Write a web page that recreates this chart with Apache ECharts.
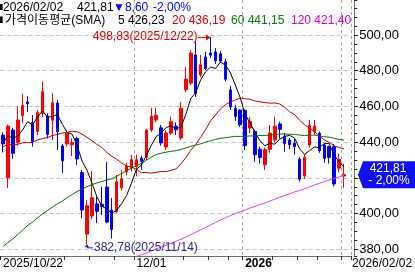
<!DOCTYPE html>
<html><head><meta charset="utf-8">
<script src="https://cdn.jsdelivr.net/npm/echarts@6/dist/echarts.min.js"></script>
<style>html,body{margin:0;padding:0;background:#fff;overflow:hidden}#c{width:415px;height:273px}</style>
</head><body><div id="c"></div><script>
const dates = ['2025/10/22','2025/10/23','2025/10/24','2025/10/27','2025/10/28','2025/10/29','2025/10/30','2025/10/31',
'2025/11/03','2025/11/04','2025/11/05','2025/11/06','2025/11/07','2025/11/10','2025/11/11','2025/11/12','2025/11/13','2025/11/14','2025/11/17','2025/11/18','2025/11/19','2025/11/20','2025/11/21','2025/11/24','2025/11/25','2025/11/26','2025/11/28',
'2025/12/01','2025/12/02','2025/12/03','2025/12/04','2025/12/05','2025/12/08','2025/12/09','2025/12/10','2025/12/11','2025/12/12','2025/12/15','2025/12/16','2025/12/17','2025/12/18','2025/12/19','2025/12/22','2025/12/23','2025/12/24','2025/12/26','2025/12/29','2025/12/30','2025/12/31',
'2026/01/02','2026/01/05','2026/01/06','2026/01/07','2026/01/08','2026/01/09','2026/01/12','2026/01/13','2026/01/14','2026/01/15','2026/01/16','2026/01/20','2026/01/21','2026/01/22','2026/01/23','2026/01/26','2026/01/27','2026/01/28','2026/01/29','2026/01/30',
'2026/02/02'];
const open = [443.9, 420.0, 446.8, 439.9, 454.8, 462.5, 451.0, 446.0, 456.0, 454.5,
 452.3, 461.9, 437.9, 439.0, 438.5, 442.1, 423.0, 388.5, 398.7, 405.4,
 405.2, 414.9, 402.0, 401.0, 414.4, 423.3, 425.5, 426.3, 431.0, 431.6,
 446.8, 452.4, 448.0, 437.3, 445.1, 449.0, 442.3, 469.4, 473.1, 488.8,
 477.6, 487.7, 489.9, 490.5, 489.5, 485.0, 469.2, 459.0, 458.0, 457.8,
 447.9, 446.0, 436.0, 427.3, 436.0, 441.2, 450.2, 443.4, 441.2, 439.5,
 430.4, 421.0, 438.4, 445.9, 445.0, 438.4, 437.5, 437.5, 425.4, 421.0];
const close = [438.97, 448.98, 433.72, 452.42, 460.55, 461.51, 440.10, 456.56, 468.37, 444.26,
 462.07, 445.91, 429.52, 445.23, 439.62, 430.60, 401.99, 404.35, 408.92, 401.25,
 403.99, 395.23, 391.09, 417.78, 419.40, 426.58, 430.17, 430.14, 429.24, 446.74,
 454.53, 455.00, 439.58, 445.17, 451.45, 446.89, 458.96, 475.31, 489.88, 467.26,
 483.37, 481.20, 488.73, 485.56, 485.40, 475.19, 459.64, 454.43, 449.72, 438.07,
 451.67, 432.96, 431.41, 435.80, 445.01, 448.96, 447.20, 439.20, 438.57, 437.50,
 419.25, 431.44, 449.36, 449.06, 435.20, 430.90, 431.46, 416.56, 430.41, 421.81];
const low = [434.2, 414.3, 430.6, 438.0, 450.9, 456.9, 437.5, 444.0, 454.0, 442.0,
 441.2, 435.6, 422.7, 437.5, 432.2, 427.2, 397.5, 382.78, 396.9, 394.7,
 399.2, 394.5, 386.0, 400.3, 412.8, 421.5, 423.5, 420.8, 424.5, 430.0,
 445.7, 451.0, 438.0, 435.6, 444.0, 444.0, 441.2, 468.0, 472.0, 465.3,
 476.5, 480.4, 487.2, 483.8, 484.5, 474.0, 458.0, 452.0, 448.5, 435.6,
 445.0, 429.0, 428.0, 424.4, 434.0, 440.0, 442.0, 434.7, 436.0, 433.0,
 417.9, 419.5, 437.0, 444.0, 434.0, 428.5, 428.0, 415.1, 423.0, 414.5];
const high = [445.5, 449.8, 448.0, 460.2, 467.0, 465.7, 455.1, 458.0, 474.1, 456.2,
 467.5, 463.5, 439.0, 447.0, 442.2, 443.0, 424.4, 407.6, 423.9, 409.3,
 415.0, 428.9, 408.7, 421.7, 424.4, 428.3, 432.8, 433.0, 432.5, 447.5,
 459.1, 459.1, 449.6, 446.5, 454.3, 451.0, 462.5, 482.1, 491.5, 496.1,
 488.8, 490.6, 498.83, 492.7, 491.0, 486.5, 471.5, 461.0, 458.5, 458.5,
 454.0, 447.0, 437.5, 437.0, 449.6, 454.3, 451.5, 445.0, 442.5, 442.0,
 431.5, 433.0, 452.4, 452.4, 446.0, 439.0, 438.0, 439.0, 433.5, 428.0];
const sma5 = [439.41, 443.46, 442.34, 443.34, 446.93, 451.44, 449.66, 454.23, 457.42, 454.16,
 454.27, 455.43, 450.03, 445.40, 444.47, 438.18, 429.39, 424.36, 417.10, 409.42,
 404.10, 402.75, 400.10, 401.87, 405.50, 410.02, 417.00, 424.81, 427.11, 432.57,
 438.16, 443.13, 445.02, 448.20, 449.15, 447.62, 448.41, 455.56, 464.50, 467.66,
 474.96, 479.40, 482.09, 481.22, 484.85, 483.22, 478.90, 472.04, 464.88, 455.41,
 450.71, 445.37, 440.77, 437.98, 439.37, 438.83, 441.68, 443.23, 443.79, 442.29,
 436.34, 433.19, 435.22, 437.32, 436.86, 439.19, 439.20, 432.64, 428.91, 426.23];
const sma20 = [437.42, 438.70, 438.37, 438.83, 439.62, 439.72, 439.93, 441.26, 442.02, 442.58,
 443.75, 444.26, 445.07, 445.53, 446.05, 445.82, 444.49, 442.74, 440.81, 438.75,
 437.00, 434.31, 432.18, 430.45, 428.39, 426.64, 426.14, 424.82, 422.87, 422.99,
 422.61, 423.07, 423.57, 423.57, 424.16, 424.97, 427.82, 431.37, 435.42, 438.72,
 442.69, 446.99, 451.87, 455.26, 458.56, 460.99, 462.46, 463.68, 464.70, 464.27,
 464.12, 463.02, 462.61, 462.15, 461.82, 461.93, 461.34, 459.53, 456.97, 455.48,
 452.27, 449.79, 447.82, 445.99, 443.48, 441.27, 439.86, 437.97, 437.00, 436.19];
const sma60 = [381.53, 383.70, 385.79, 388.28, 390.80, 393.35, 395.35, 397.59, 399.90, 401.66,
 403.68, 405.45, 407.02, 408.93, 410.67, 412.36, 413.66, 415.07, 416.21, 417.12,
 418.00, 418.76, 419.51, 420.91, 422.41, 423.95, 425.48, 426.80, 428.18, 429.84,
 431.62, 433.06, 433.79, 434.37, 434.87, 435.22, 435.92, 436.74, 437.67, 438.36,
 439.04, 440.00, 440.80, 441.51, 442.19, 442.45, 442.84, 443.25, 443.20, 443.28,
 443.49, 443.45, 443.75, 443.75, 444.01, 444.24, 444.55, 444.55, 444.40, 444.31,
 443.99, 443.69, 443.95, 443.90, 443.48, 442.97, 442.82, 442.16, 441.52, 441.15];
const sma120 = [null, null, null, null, null, null, null, null, null, null,
 null, null, null, null, null, null, null, null, null, null,
 null, null, null, null, null, null, 375.10, 376.02, 376.93, 377.99,
 379.11, 380.23, 381.23, 382.27, 383.37, 384.43, 385.58, 386.88, 388.29, 389.52,
 390.88, 392.23, 393.63, 395.01, 396.39, 397.68, 398.85, 399.97, 401.05, 402.03,
 403.13, 404.07, 405.00, 405.96, 407.01, 408.08, 409.14, 410.14, 411.12, 412.10,
 412.93, 413.86, 414.94, 416.01, 416.97, 417.90, 418.83, 419.63, 420.55, 421.40];
const maPeriods = [5, 20, 60, 120];
const maTitle = '가격이동평균(SMA)';

const F = '"Liberation Sans", "Noto Sans CJK KR", sans-serif';
const fmt = v => v.toFixed(2).replace('.', ',');
const N = dates.length;
const cats = dates.concat(['']);
const ohlc = dates.map((d, i) => [open[i], close[i], low[i], high[i]]);
const day = s => new Date(s.replace(/\//g, '-') + 'T00:00:00Z').getUTCDay();

// axis labels: first date, month starts (skipping ones hidden under the first label), last date
const FIRST_SPAN = 12, MONTH_SPAN = 6;
const labelTxt = {};
labelTxt[0] = dates[0];
for (let i = 1; i < N; i++) {
  if (dates[i].slice(0, 7) !== dates[i - 1].slice(0, 7) && i >= FIRST_SPAN) {
    labelTxt[i] = dates[i].slice(0, 4) !== dates[i - 1].slice(0, 4) ? '{b|' + dates[i].slice(0, 4) + '}' : dates[i].slice(5);
  }
}
labelTxt[N - 1] = '{e|' + dates[N - 1] + '}';
const spans = Object.keys(labelTxt).map(k => [+k, (k == 0 || k == N - 1) ? FIRST_SPAN : MONTH_SPAN]);
const tickOn = i => {
  if (i >= N) return false;
  if (labelTxt[i] !== undefined) return true;
  if (!(day(dates[i]) <= day(dates[i - 1]))) return false;
  return !spans.some(([j, s]) => i > j && i < j + s);
};

const GR = 60.7, YOFF = 2.7, YMIN = 376.24, YMAX = 519.6;
const colUp = '#ff0000', colDn = '#0000ff';
const maCol = ['#000000', '#c80000', '#007800', '#e040e0'];
const maTxtCol = ['#000000', '#e00000', '#008000', '#cc00cc'];

const chart = echarts.init(document.getElementById('c'), null, {renderer: 'canvas'});
chart.setOption({
  animation: false,
  backgroundColor: '#ffffff',
  grid: {left: -3.2, right: GR, top: 0, bottom: 17, containLabel: false},
  xAxis: {
    type: 'category', data: cats, boundaryGap: true,
    axisLine: {lineStyle: {color: '#707070', width: 1}},
    axisTick: {show: true, length: 4, interval: (i) => tickOn(i), lineStyle: {color: '#303030'}},
    axisLabel: {
      interval: (i) => labelTxt[i] !== undefined,
      formatter: (v, i) => labelTxt[i] || '',
      showMinLabel: true, showMaxLabel: true, hideOverlap: false,
      align: 'left', margin: 2, fontSize: 12, fontFamily: F, color: '#000',
      rich: {b: {fontWeight: 'bold', fontSize: 12, fontFamily: F, color: '#000'},
             e: {fontSize: 12, fontFamily: F, color: '#000', padding: [0, 0, 0, 8]}}
    },
    splitLine: {show: true, interval: (i) => i > 0 && labelTxt[i] !== undefined,
      lineStyle: {type: [3, 3], color: '#a8a8a8', width: 1}}
  },
  yAxis: [{
    type: 'value', position: 'right', min: YMIN, max: YMAX, minInterval: 20, maxInterval: 20, splitNumber: 7,
    offset: YOFF,
    axisLine: {show: true, lineStyle: {color: '#707070'}},
    axisTick: {show: true, inside: false, length: 4, lineStyle: {color: '#202020'}},
    axisLabel: {showMinLabel: false, showMaxLabel: false, formatter: v => fmt(v), fontSize: 13, fontFamily: F, color: '#000', margin: 5},
    splitLine: {show: true, showMinLine: false, showMaxLine: false, lineStyle: {type: [4, 3], color: '#c4c4c4'}}
  }, {
    type: 'value', position: 'right', min: YMIN, max: YMAX, minInterval: 5, maxInterval: 5, splitNumber: 28,
    offset: YOFF,
    axisLine: {show: false},
    axisTick: {show: true, inside: false, length: 3, lineStyle: {color: '#202020'}},
    axisLabel: {show: false},
    splitLine: {show: false}
  }],
  series: [
    {type: 'candlestick', data: ohlc, barWidth: 3, z: 2,
     itemStyle: {color: colUp, color0: colDn, borderColor: colUp, borderColor0: colDn, borderWidth: 1}},
    ...[sma5, sma20, sma60, sma120].map((d, k) => ({
      type: 'line', data: d, symbol: 'none', z: 3, silent: true, connectNulls: false,
      lineStyle: {color: maCol[k], width: 1}
    }))
  ]
});

const P = (i, v) => chart.convertToPixel({xAxisIndex: 0, yAxisIndex: 0}, [i, v]);
const G = [];
const txt = (x, y, t, fill, opt) => G.push(Object.assign({type: 'text', x, y, z: 100,
  style: Object.assign({text: t, fill, fontSize: 12, fontFamily: F, align: 'left', verticalAlign: 'middle'}, opt || {})}));

// header
const last = N - 1, chg = close[last] - close[last - 1], pct = chg / close[last - 1] * 100;
G.push({type: 'rect', z: 100, shape: {x: 0, y: 4, width: 2.7, height: 6}, style: {fill: '#000'}});
G.push({type: 'rect', z: 100, shape: {x: 0, y: 16.5, width: 2.7, height: 6.5}, style: {fill: '#000'}});
const dnCol = chg < 0 ? '#0000ff' : '#ff0000';
txt(3, 8, dates[last], '#000');
txt(77, 8, fmt(close[last]), '#000');
txt(113, 8, (chg < 0 ? '▼' : '▲') + fmt(Math.abs(chg)), dnCol);
txt(153, 8, (pct < 0 ? '-' : '+') + fmt(Math.abs(pct)) + '%', dnCol);
txt(5, 20.5, maTitle, '#000');
const maLast = [sma5, sma20, sma60, sma120].map(a => a[a.length - 1]);
const maX = [118, 172, 231, 291];
maPeriods.forEach((p, k) => txt(maX[k], 20.5, p + ' ' + fmt(maLast[k]), maTxtCol[k]));

// high annotation
const hi = high.indexOf(Math.max(...high));
const [hx, hy] = P(hi, high[hi]);
txt(hx - 13, hy, fmt(high[hi]) + '(' + dates[hi] + ')', '#e00000', {align: 'right'});
G.push({type: 'line', z: 100, shape: {x1: hx - 13, y1: hy + 0.5, x2: hx - 2, y2: hy + 0.5}, style: {stroke: '#e00000', lineWidth: 1}});
G.push({type: 'polygon', z: 100, shape: {points: [[hx, hy + 0.5], [hx - 4.5, hy - 2.5], [hx - 4.5, hy + 3.5]]}, style: {fill: '#e00000'}});

// low annotation
const lo = low.indexOf(Math.min(...low));
const [lx, ly] = P(lo, low[lo]);
const nv = '#2828a8';
G.push({type: 'polygon', z: 100, shape: {points: [[lx, ly], [lx - 2.5, ly + 3], [lx + 2.5, ly + 3]]}, style: {fill: nv}});
G.push({type: 'polyline', z: 100, shape: {points: [[lx + 0.5, ly + 2], [lx + 0.5, ly + 3.5], [lx + 6, ly + 3.5]]}, style: {stroke: nv, lineWidth: 1, fill: null}});
txt(lx + 7, ly + 3.5, fmt(low[lo]) + '(' + dates[lo] + ')', nv);

// price tag on the axis
const [, py] = P(last, close[last]);
const ax = 415 - GR + YOFF;
G.push({type: 'polygon', z: 100, shape: {points: [[ax + 1, py], [ax + 6, py - 13.5], [415, py - 13.5], [415, py + 13.5], [ax + 6, py + 13.5]]}, style: {fill: '#1010f0'}});
txt(388, py - 6, fmt(close[last]), '#fff', {align: 'center'});
txt(389, py + 6.5, (pct < 0 ? '- ' : '+ ') + fmt(Math.abs(pct)) + '%', '#fff', {align: 'center'});

chart.setOption({graphic: {elements: G}});
</script></body></html>
